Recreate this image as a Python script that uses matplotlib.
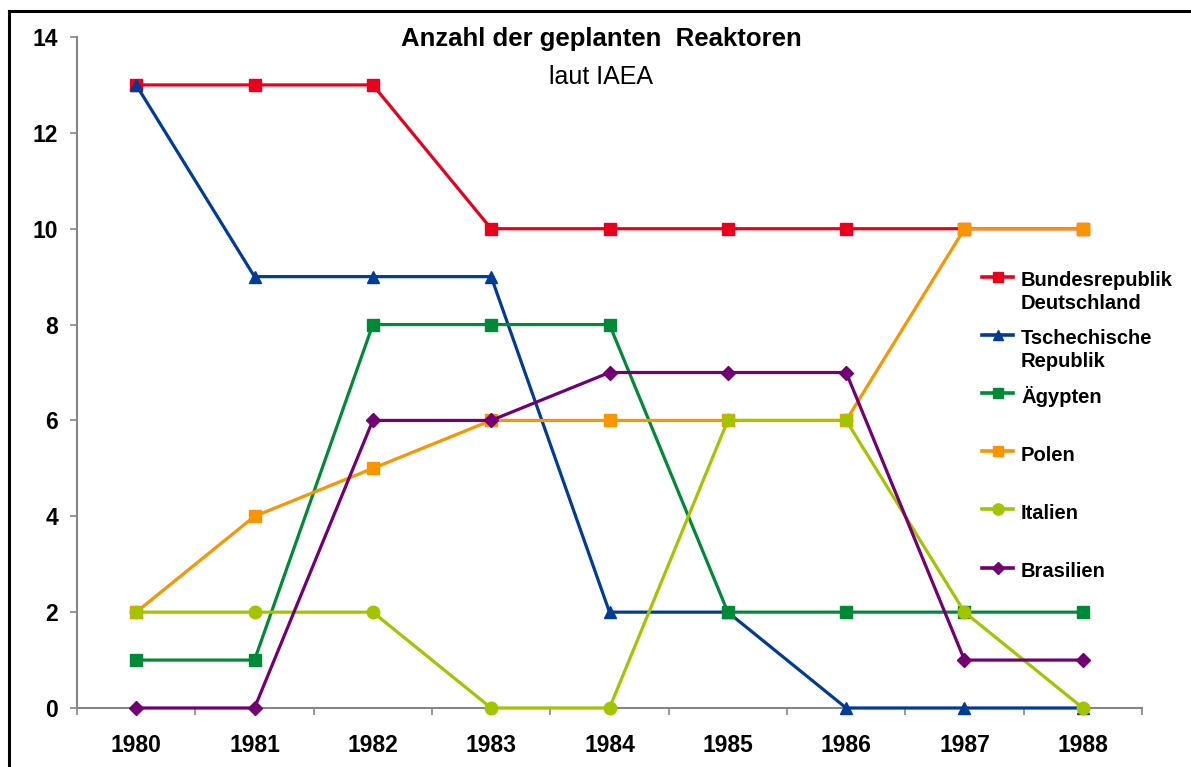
import numpy as np
import matplotlib.pyplot as plt
from matplotlib.lines import Line2D

plt.rcParams['font.family'] = ['Liberation Sans', 'DejaVu Sans']

years = ['1980', '1981', '1982', '1983', '1984', '1985', '1986', '1987', '1988']
labels = ['Bundesrepublik\nDeutschland', 'Tschechische\nRepublik', 'Ägypten',
          'Polen', 'Italien', 'Brasilien']
brd = [13, 13, 13, 10, 10, 10, 10, 10, 10]
tschechien = [13, 9, 9, 9, 2, 2, 0, 0, 0]
aegypten = [1, 1, 8, 8, 8, 2, 2, 2, 2]
polen = [2, 4, 5, 6, 6, 6, 6, 10, 10]
italien = [2, 2, 2, 0, 0, 6, 6, 2, 0]
brasilien = [0, 0, 6, 6, 7, 7, 7, 1, 1]

series = [brd, tschechien, aegypten, polen, italien, brasilien]
colors = ['#E8001C', '#003C96', '#008A37', '#F89500', '#A4C400', '#720072']
markers = ['s', '^', 's', 's', 'o', 'D']
msizes = [8.5, 8, 8.5, 8.5, 9, 7]

W, H = 1191, 767
fig = plt.figure(figsize=(W / 100, H / 100), dpi=100)
fig.set_facecolor('white')
ax = fig.add_axes([77 / W, 1 - 708 / H, (1142 - 77) / W, (708 - 37) / H])

x = np.arange(len(years))
for vals, c, m, ms in zip(series, colors, markers, msizes):
    ax.plot(x, vals, color=c, lw=2.3, marker=m, ms=ms, mec=c, mfc=c,
            clip_on=False, zorder=3)

ax.set_xlim(-0.5, len(years) - 0.5)
ax.set_ylim(0, 14)
ax.set_yticks(np.arange(0, 15, 2))
ax.set_xticks(x)
ax.set_xticklabels(years)
ax.set_xticks(np.arange(-0.5, len(years), 1), minor=True)

for s in ['top', 'right']:
    ax.spines[s].set_visible(False)
for s in ['left', 'bottom']:
    ax.spines[s].set_color('#868686')
    ax.spines[s].set_linewidth(1.5)

ax.tick_params(axis='x', which='major', length=0, pad=19, labelsize=16.5)
ax.tick_params(axis='x', which='minor', length=5, width=1.2, color='#868686',
               direction='out')
ax.tick_params(axis='y', length=5, width=1.2, color='#868686', pad=8.5,
               labelsize=16.5)
for t in ax.get_xticklabels() + ax.get_yticklabels():
    t.set_fontweight('bold')

fig.text(601 / W, 1 - 46 / H, 'Anzahl der geplanten  Reaktoren', ha='center',
         va='baseline', fontsize=18.5, fontweight='bold')
fig.text(601 / W, 1 - 84 / H, 'laut IAEA', ha='center', va='baseline',
         fontsize=18)

# legend, Excel style
for i, (lab, c, m, ms) in enumerate(zip(labels, colors, markers, msizes)):
    yp = 1 - (276.5 + 58.2 * i) / H
    fig.add_artist(Line2D([982 / W, 1013 / W], [yp, yp], color=c, lw=2.6,
                          transform=fig.transFigure))
    fig.add_artist(Line2D([997.5 / W], [yp], color=c, marker=m, ms=ms * 0.9,
                          mec=c, mfc=c, transform=fig.transFigure))
    for j, line in enumerate(lab.split('\n')):
        fig.text(1021 / W, yp - (2 + j * 23) / H, line, ha='left',
                 va='center_baseline', fontsize=14.5, fontweight='bold')

# frame, cut at right and bottom
fig.add_artist(Line2D([9 / W, 9 / W], [0, 1 - 11 / H], color='black', lw=2.2,
                      transform=fig.transFigure))
fig.add_artist(Line2D([9 / W, 1], [1 - 11 / H, 1 - 11 / H], color='black',
                      lw=2.2, transform=fig.transFigure))

fig.savefig('out.png', dpi=100)
